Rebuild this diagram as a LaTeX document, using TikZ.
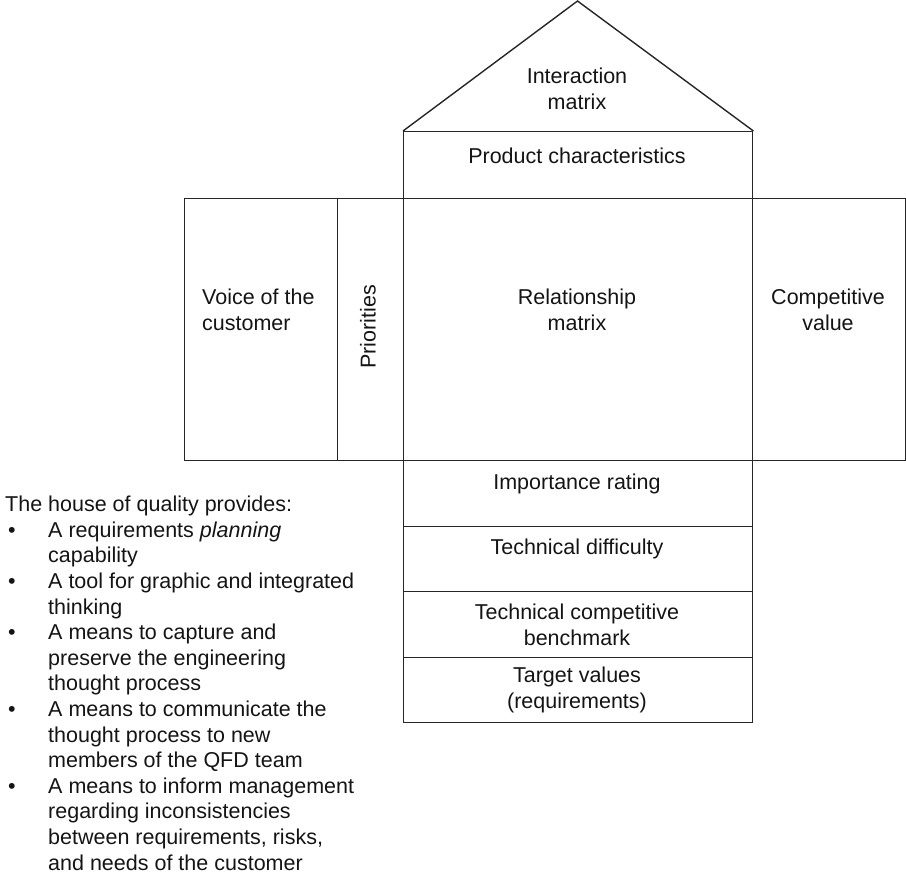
\documentclass[tikz,border=0pt]{standalone}
\usepackage{fontspec}
\setmainfont{Liberation Sans}
\usepackage{array}
\begin{document}
\begin{tikzpicture}[x=1pt,y=-1pt,
  box/.style={draw=black!85, line width=1.4pt, inner sep=0pt, anchor=north west},
  edge/.style={draw=black!85, line width=1.4pt, line join=miter},
  lbl/.style={text=black!92, font=\fontsize{21.5}{26}\selectfont, align=center, inner sep=0pt},
]
\useasboundingbox (0,0) rectangle (906,876);
% boxes
\node[box, minimum width=349pt, minimum height=67pt] (pc) at (403,131) {};
\node[box, minimum width=153pt, minimum height=262pt] (voc) at (184,198) {};
\node[box, minimum width=66pt, minimum height=262pt] (pri) at (337,198) {};
\node[box, minimum width=349pt, minimum height=262pt] (rel) at (403,198) {};
\node[box, minimum width=153pt, minimum height=262pt] (comp) at (752,198) {};
\node[box, minimum width=349pt, minimum height=66pt] (imp) at (403,460) {};
\node[box, minimum width=349pt, minimum height=65pt] (dif) at (403,526) {};
\node[box, minimum width=349pt, minimum height=66pt] (tcb) at (403,591) {};
\node[box, minimum width=349pt, minimum height=65pt] (tv) at (403,657) {};
% roof
\coordinate (apex) at (577.5,1);
\draw[edge] (pc.north west) -- (apex) -- (pc.north east);
% labels
\node[lbl] (tint) at (577,89) {Interaction\\matrix};
\node[lbl] (tpc) at (577,156) {Product characteristics};
\node[lbl, align=left, anchor=west] (tvoc) at (202,310) {Voice of the\\customer};
\node[lbl, rotate=90] (tpri) at (368,327) {Priorities};
\node[lbl] (trel) at (577,310) {Relationship\\matrix};
\node[lbl] (tcomp) at (828,310) {Competitive\\value};
\node[lbl] (timp) at (577,484) {Importance rating};
\node[lbl] (tdif) at (577,549) {Technical difficulty};
\node[lbl] (ttcb) at (577,625) {Technical competitive\\benchmark};
\node[lbl] (ttv) at (577,690) {Target values\\(requirements)};
% list
\node[lbl, align=left, anchor=north west] (list) at (5,493.5) {%
\fontsize{21.5}{25.6}\selectfont
\begin{tabular}{@{}p{43pt}@{}l@{}}
\multicolumn{2}{@{}l@{}}{The house of quality provides:}\\
\hspace{3pt}\textbullet & A requirements \textit{planning}\\
 & capability\\
\hspace{3pt}\textbullet & A tool for graphic and integrated\\
 & thinking\\
\hspace{3pt}\textbullet & A means to capture and\\
 & preserve the engineering\\
 & thought process\\
\hspace{3pt}\textbullet & A means to communicate the\\
 & thought process to new\\
 & members of the QFD team\\
\hspace{3pt}\textbullet & A means to inform management\\
 & regarding inconsistencies\\
 & between requirements, risks,\\
 & and needs of the customer
\end{tabular}};
\end{tikzpicture}
\end{document}
